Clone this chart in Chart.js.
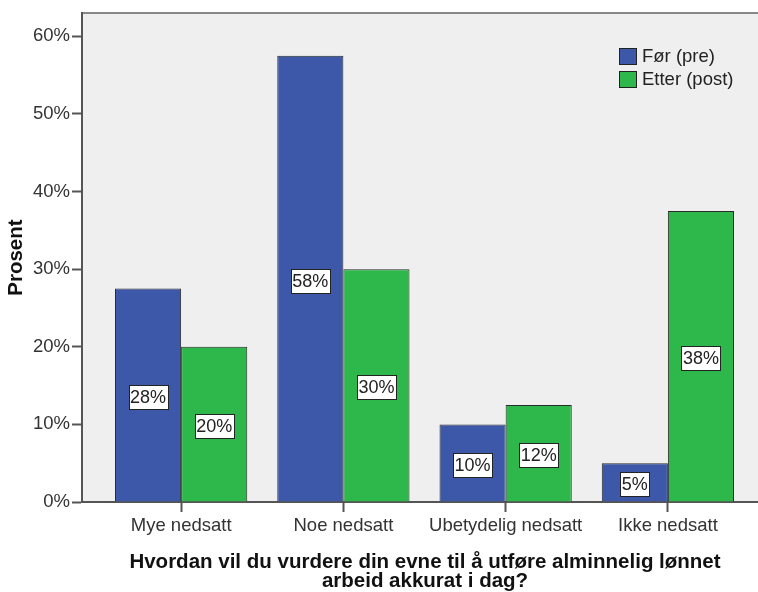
<!DOCTYPE html>
<html>
<head>
<meta charset="utf-8">
<script src="https://cdn.jsdelivr.net/npm/chart.js@4"></script>
<style>
  html, body { margin: 0; padding: 0; background: #fff; overflow: hidden; }
  #wrap { width: 758px; height: 592px; overflow: hidden; }
  #box { width: 768px; height: 592px; }
</style>
</head>
<body>
<div id="wrap"><div id="box"><canvas id="chart"></canvas></div></div>
<script>
// Data
const categories = ['Mye nedsatt', 'Noe nedsatt', 'Ubetydelig nedsatt', 'Ikke nedsatt'];
const preValues = [27.5, 57.5, 10, 5];
const postValues = [20, 30, 12.5, 37.5];
const preLabels = ['28%', '58%', '10%', '5%'];
const postLabels = ['20%', '30%', '12%', '38%'];
const seriesNames = ['Før (pre)', 'Etter (post)'];
const yTicks = [0, 10, 20, 30, 40, 50, 60];

const FONT = "'Liberation Sans', Arial, sans-serif";

// grå bakgrunn i plottet + topplinje
const plotBg = {
    id: 'plotBg',
    beforeDraw(chart) {
        const { ctx, chartArea: a } = chart;
        ctx.save();
        ctx.fillStyle = '#efefef';
        ctx.fillRect(a.left, a.top, a.right - a.left, a.bottom - a.top);
        ctx.strokeStyle = '#888';
        ctx.lineWidth = 2;
        ctx.beginPath();
        ctx.moveTo(a.left, a.top);
        ctx.lineTo(a.right, a.top);
        ctx.stroke();
        ctx.restore();
    }
};

// verdietiketter midt i søylene
const barLabels = {
    id: 'barLabels',
    afterDatasetsDraw(chart) {
        const ctx = chart.ctx;
        const texts = [preLabels, postLabels];
        ctx.save();
        ctx.font = '18px ' + FONT;
        ctx.textAlign = 'center';
        ctx.textBaseline = 'middle';
        chart.data.datasets.forEach((ds, di) => {
            chart.getDatasetMeta(di).data.forEach((bar, i) => {
                const t = texts[di][i];
                const w = ctx.measureText(t).width + 3;
                const h = 24;
                const cx = bar.x;
                const cy = (bar.y + bar.base) / 2 + 2;
                ctx.fillStyle = '#fff';
                ctx.fillRect(Math.round(cx - w / 2) + 0.5, Math.round(cy - h / 2) + 0.5, Math.round(w), h);
                ctx.strokeStyle = '#222';
                ctx.lineWidth = 1;
                ctx.strokeRect(Math.round(cx - w / 2) + 0.5, Math.round(cy - h / 2) + 0.5, Math.round(w), h);
                ctx.fillStyle = '#222';
                ctx.fillText(t, cx, cy + 1);
            });
        });
        ctx.restore();
    }
};

// legende inne i plottet
const boxLegend = {
    id: 'boxLegend',
    afterDraw(chart) {
        const ctx = chart.ctx;
        ctx.save();
        ctx.font = '18.5px ' + FONT;
        ctx.textBaseline = 'middle';
        chart.data.datasets.forEach((ds, i) => {
            const x = 619, y = 48 + i * 23;
            ctx.fillStyle = ds.backgroundColor;
            ctx.fillRect(x, y, 18, 17);
            ctx.strokeStyle = '#222';
            ctx.lineWidth = 1;
            ctx.strokeRect(x + 0.5, y + 0.5, 17, 16);
            ctx.fillStyle = '#222';
            ctx.fillText(ds.label, x + 23, y + 9);
        });
        ctx.restore();
    }
};

const ctx1 = document.getElementById('chart').getContext('2d');
new Chart(ctx1, {
    type: 'bar',
    data: {
        datasets: [
            {
                label: seriesNames[0],
                data: preValues.map((v, i) => ({ x: i, y: v })),
                backgroundColor: '#3d57a9',
                borderColor: '#2a2a2a',
                borderWidth: 1
            },
            {
                label: seriesNames[1],
                data: postValues.map((v, i) => ({ x: i, y: v })),
                backgroundColor: '#2eb84b',
                borderColor: '#2a2a2a',
                borderWidth: 1
            }
        ]
    },
    options: {
        responsive: true,
        maintainAspectRatio: false,
        animation: false,
        categoryPercentage: 0.815,
        barPercentage: 1.0,
        layout: { padding: { top: 10, left: 0, right: 0, bottom: 0 } },
        plugins: {
            legend: { display: false },
            tooltip: { enabled: false }
        },
        scales: {
            x: {
                type: 'linear',
                offset: false,
                min: -0.611,
                max: 3.617,
                afterBuildTicks: (scale) => {
                    scale.ticks = categories.map((c, i) => ({ value: i }));
                },
                afterFit: (scale) => { scale.height = 90; },
                ticks: {
                    autoSkip: false,
                    maxRotation: 0,
                    padding: 3,
                    color: '#333',
                    font: { family: FONT, size: 18.5 },
                    callback: (v) => categories[v]
                },
                grid: {
                    offset: false,
                    drawOnChartArea: false,
                    drawTicks: true,
                    tickLength: 10,
                    tickWidth: 2,
                    tickColor: '#555'
                },
                border: { color: '#555', width: 2 },
                title: {
                    display: true,
                    text: ['Hvordan vil du vurdere din evne til å utføre alminnelig lønnet', 'arbeid akkurat i dag?'],
                    color: '#111',
                    font: { family: FONT, size: 20.5, weight: 'bold', lineHeight: '19px' },
                    padding: { top: 0, bottom: 1 }
                }
            },
            y: {
                min: 0,
                max: 63,
                afterBuildTicks: (scale) => {
                    scale.ticks = yTicks.map(v => ({ value: v }));
                },
                afterFit: (scale) => { scale.width = 82; },
                ticks: {
                    padding: 2,
                    color: '#333',
                    font: { family: FONT, size: 18.5 },
                    callback: (v) => v + '%'
                },
                grid: {
                    drawOnChartArea: false,
                    drawTicks: true,
                    tickLength: 10,
                    tickWidth: 2,
                    tickColor: '#555'
                },
                border: { color: '#555', width: 2 },
                title: {
                    display: true,
                    text: 'Prosent',
                    color: '#111',
                    font: { family: FONT, size: 20.5, weight: 'bold' },
                    padding: { top: 4, bottom: 0 }
                }
            }
        }
    },
    plugins: [plotBg, barLabels, boxLegend]
});
</script>
</body>
</html>
